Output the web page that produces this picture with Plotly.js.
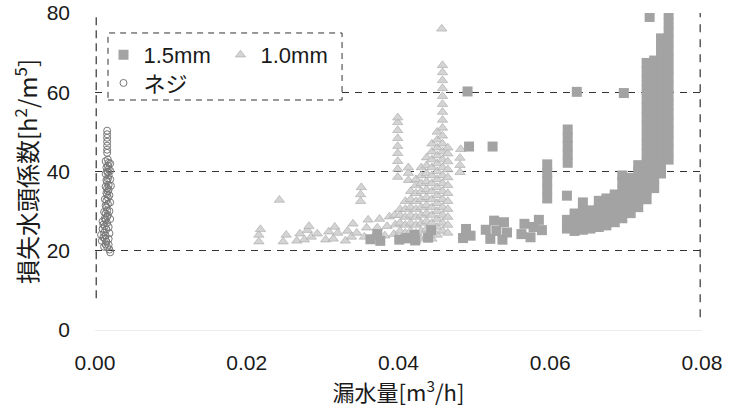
<!DOCTYPE html>
<html><head><meta charset="utf-8">
<script src="https://cdn.plot.ly/plotly-3.0.1.min.js"></script>
<style>html,body{margin:0;padding:0;background:#fff}#chart{width:732px;height:417px}</style>
</head><body><div id="chart"></div>
<script>
// ---- tick labels ----
const xTickVals = [0, 0.02, 0.04, 0.06, 0.08];
const xTickText = ['0.00', '0.02', '0.04', '0.06', '0.08'];
const yTickVals = [0, 20, 40, 60, 80];
const seriesNames = ['1.5mm', '1.0mm', 'ネジ'];

// ---- 1.5mm (squares): [x, [y values at that x]] ----
const sq15 = [
  [0.0363, [22.9]], [0.0376, [22.5]], [0.0372, [24.2]],
  [0.0401, [22.8]], [0.0411, [23.2]], [0.0421, [24.0]], [0.0422, [22.6]],
  [0.0439, [23.3]], [0.0443, [25.2]],
  [0.0485, [23.2]], [0.0489, [25.5]], [0.0495, [23.8]],
  [0.0515, [25.3]], [0.0521, [23.0]], [0.0526, [27.6]], [0.0529, [25.0]],
  [0.0537, [22.8]], [0.0539, [27.2]], [0.0543, [24.6]],
  [0.0562, [24.2]], [0.0566, [26.8]], [0.0574, [23.4]], [0.0578, [26.0]],
  [0.0585, [27.8]], [0.0589, [25.2]],
  [0.0491, [60.2]], [0.0493, [46.3]], [0.0524, [46.3]],
  [0.0635, [60.1]], [0.0697, [59.8]], [0.0731, [79.0]],
  [0.0596, [33.2, 35.4, 37.6, 39.8, 41.8]],
  [0.0623, [42.2, 44.3, 46.4, 48.5, 50.6]],
  [0.0622, [33.9, 25.6, 27.8]],
  [0.0632, [25.0, 27.3, 29.4]],
  [0.0643, [25.3, 27.6, 29.9, 32.2]],
  [0.0653, [25.6, 27.9, 30.2]],
  [0.0664, [26.0, 28.3, 30.6, 32.6]],
  [0.0674, [26.4, 28.7, 31.0, 33.2]],
  [0.0685, [27.2, 29.5, 31.8, 34.2]],
  [0.0695, [28.2, 30.5, 32.8, 35.2, 37.5, 39.0]],
  [0.0706, [29.5, 31.8, 34.1, 36.4, 38.4]],
  [0.0716, [31.0, 33.3, 35.6, 37.9, 40.1, 41.6]],
  [0.0727, [33.0, 35.3, 37.6, 39.9, 42.2, 44.5, 46.8, 49.1, 51.4, 53.7, 56.0, 58.3, 60.6, 62.9, 65.2, 67.4]],
  [0.0737, [35.8, 38.1, 40.4, 42.7, 45.0, 47.3, 49.6, 51.9, 54.2, 56.5, 58.8, 61.1, 63.4, 65.7, 68.0]],
  [0.0746, [39.5, 41.8, 44.1, 46.4, 48.7, 51.0, 53.3, 55.6, 57.9, 60.2, 62.5, 64.8, 67.1, 69.4, 71.7, 73.6]],
  [0.0756, [43.0, 45.3, 47.6, 49.9, 52.2, 54.5, 56.8, 59.1, 61.4, 63.7, 66.0, 68.3, 70.6, 72.9, 75.2, 77.5, 79.8]]
];

// ---- 1.0mm (triangles): [x, [y values at that x]] ----
const tri10 = [
  [0.0216, [22.3, 24.0]], [0.0218, [25.4]], [0.0243, [32.8]],
  [0.0248, [22.3]], [0.0252, [24.0]],
  [0.0266, [22.5]], [0.0270, [24.3]], [0.0276, [22.8]], [0.0280, [25.2]], [0.0285, [23.5]], [0.0282, [26.2]],
  [0.0293, [24.3]],
  [0.0304, [22.8]], [0.0308, [24.8]], [0.0314, [23.0]], [0.0316, [26.0]], [0.0320, [24.5]],
  [0.0330, [22.5]], [0.0333, [25.0]], [0.0338, [23.5]], [0.0340, [26.8]], [0.0345, [24.5]],
  [0.0350, [32.5, 34.2]], [0.0351, [36.0]],
  [0.0355, [23.5]], [0.0358, [25.8]], [0.0360, [27.8]],
  [0.0367, [23.5]], [0.0372, [25.8]], [0.0375, [28.0]],
  [0.0382, [23.8]], [0.0385, [26.2]], [0.0388, [28.6]],
  [0.0394, [24.2]], [0.0396, [26.6]], [0.0395, [29.0]],
  [0.0399, [38.6, 40.6, 42.6, 44.6, 46.4, 48.4, 50.4, 52.4, 53.6]],
  [0.0413, [37.8, 39.6, 41.0]],
  [0.0402, [23, 25, 27, 29, 30.5]],
  [0.0409, [22.5, 24.5, 26.5, 28.5, 30.5, 32.5]],
  [0.0416, [23, 25, 27, 29, 31, 33, 35]],
  [0.0423, [22.5, 24.5, 26.5, 28.5, 30.5, 32.5, 34.5, 36.5, 38]],
  [0.0430, [23, 25, 27, 29, 31, 33, 35, 37, 39, 41]],
  [0.0437, [23.5, 25.5, 27.5, 29.5, 31.5, 33.5, 35.5, 37.5, 39.5, 41.5, 43.5]],
  [0.0444, [23, 25, 27, 29, 31, 33, 35, 37, 39, 41, 43, 45, 47]],
  [0.0451, [24, 26, 28, 30, 32, 34, 36, 38, 40, 42, 44, 46, 48, 50]],
  [0.0458, [25, 27, 29, 31, 33, 35, 37, 39, 41, 43, 45, 47, 49, 51, 53, 55, 57, 59, 61, 63, 65, 66.8]],
  [0.0465, [24.5, 26.5, 28.5, 30.5, 32.5, 34.5, 36.5, 38.5, 40.5, 42.5, 44.5, 46]],
  [0.0457, [76.0]],
  [0.0481, [39.8, 41.6, 43.4]], [0.0482, [45.6]]
];

// ---- ネジ (circles): [x, y] pairs ----
const neji = [
  [0.0016, 50.3], [0.0016, 49.4], [0.0016, 48.5], [0.0016, 47.5], [0.0016, 46.5], [0.0016, 45.5], [0.0016, 44.7],
  [0.0017, 43.0], [0.0018, 42.2], [0.0017, 41.4], [0.0018, 40.6], [0.0017, 39.8], [0.0018, 39.0], [0.0017, 38.2],
  [0.0016, 37.4], [0.0018, 36.6], [0.0016, 35.8], [0.0017, 35.0], [0.0016, 34.2], [0.0017, 33.4], [0.0015, 32.6],
  [0.0017, 31.8], [0.0015, 31.0], [0.0016, 30.2], [0.0014, 29.4], [0.0016, 28.6], [0.0014, 27.8], [0.0016, 27.0],
  [0.0013, 26.2], [0.0015, 25.4], [0.0012, 24.6], [0.0014, 23.8], [0.0013, 23.0], [0.0015, 22.3], [0.0014, 21.6],
  [0.0016, 20.9], [0.0019, 20.3], [0.0020, 19.6],
  [0.0020, 42.0], [0.0020, 38.0], [0.0019, 34.0], [0.0019, 30.0], [0.0018, 26.0], [0.0018, 23.0],
  [0.0008, 24.0], [0.0009, 22.5], [0.0010, 25.5],
  [0.0014, 42.6], [0.0015, 41.0], [0.0014, 39.4], [0.0015, 37.8], [0.0014, 36.2], [0.0015, 34.6],
  [0.0013, 33.0], [0.0014, 31.4], [0.0012, 29.8], [0.0013, 28.2], [0.0011, 26.6], [0.0011, 23.4],
  [0.0020, 40.2], [0.0021, 36.4], [0.0020, 32.2], [0.0020, 28.0], [0.0019, 24.4], [0.0018, 21.5],
  [0.0012, 21.0], [0.0010, 27.4], [0.0017, 29.0], [0.0018, 35.4], [0.0016, 40.0]
];

function fromCols(cols) {
  const xs = [], ys = [];
  cols.forEach(c => c[1].forEach(v => { xs.push(c[0]); ys.push(v); }));
  return { xs, ys };
}
const s15 = fromCols(sq15);
const t10 = fromCols(tri10);
const nj = { xs: neji.map(p => p[0]), ys: neji.map(p => p[1]) };

const FONT = '"Liberation Sans", Arial, "Noto Sans CJK JP", sans-serif';
const CJK = '"Noto Sans CJK JP", "Liberation Sans", sans-serif';

const traces = [
  { type: 'scatter', mode: 'markers', name: seriesNames[1], x: t10.xs, y: t10.ys,
    legend: 'legend', legendrank: 2,
    marker: { symbol: 'triangle-up', size: 9, color: '#d4d4d4', line: { color: '#a6a6a6', width: 0.6 } } },
  { type: 'scatter', mode: 'markers', name: seriesNames[0], x: s15.xs, y: s15.ys,
    legend: 'legend', legendrank: 1,
    marker: { symbol: 'square', size: 10, color: '#a3a3a3', line: { width: 0 } } },
  { type: 'scatter', mode: 'markers', name: seriesNames[2], x: nj.xs, y: nj.ys,
    legend: 'legend2',
    marker: { symbol: 'circle-open', size: 7, color: '#777777', line: { width: 1 } } }
];

const layout = {
  width: 732, height: 417,
  margin: { l: 95, r: 30, t: 13, b: 87 },
  paper_bgcolor: '#ffffff', plot_bgcolor: '#ffffff',
  font: { family: FONT, color: '#1a1a1a', size: 21 },
  xaxis: {
    range: [0, 0.08], tickvals: xTickVals, ticktext: xTickText,
    showgrid: false, zeroline: false, showline: false, ticks: '',
    tickfont: { size: 21, family: FONT }, ticklabelstandoff: 18, automargin: false,
    title: { text: '漏水量[m<sup>3</sup>/h]', font: { family: CJK, size: 22 }, standoff: 12 }
  },
  yaxis: {
    range: [0, 80], tickvals: yTickVals,
    showgrid: true, gridcolor: '#333333', griddash: '7px,6px', gridwidth: 1,
    zeroline: true, zerolinecolor: '#ececec', zerolinewidth: 1,
    showline: false, ticks: '',
    tickfont: { size: 21, family: FONT }, ticklabelstandoff: 24, automargin: false,
    title: { text: '損失水頭係数[h<sup>2</sup>/m<sup>5</sup>]', font: { family: CJK, size: 24 }, standoff: 2 }
  },
  showlegend: true,
  legend: {
    orientation: 'h', x: 0.014, y: 0.934, xanchor: 'left', yanchor: 'top',
    bgcolor: 'rgba(0,0,0,0)', borderwidth: 0, font: { size: 22, family: FONT },
    entrywidth: 72, traceorder: 'normal'
  },
  legend2: {
    orientation: 'h', x: 0.014, y: 0.845, xanchor: 'left', yanchor: 'top',
    bgcolor: 'rgba(0,0,0,0)', borderwidth: 0, font: { size: 22, family: FONT }
  },
  shapes: [
    { type: 'rect', xref: 'paper', yref: 'paper', x0: 0.0214, x1: 0.407, y0: 0.7256, y1: 0.937,
      line: { color: '#333', width: 1, dash: '6px,5px' }, fillcolor: '#ffffff', layer: 'above' },
    { type: 'line', xref: 'paper', yref: 'paper', x0: 0.002, x1: 0.002, y0: 0.1, y1: 1,
      line: { color: '#333', width: 1.2, dash: '8px,5px' } },
    { type: 'line', xref: 'paper', yref: 'paper', x0: 0.997, x1: 0.997, y0: 0.04, y1: 1,
      line: { color: '#333', width: 1.2, dash: '8px,7px' } }
  ]
};

Plotly.newPlot('chart', traces, layout, { displayModeBar: false, staticPlot: true });
</script>
</body></html>
